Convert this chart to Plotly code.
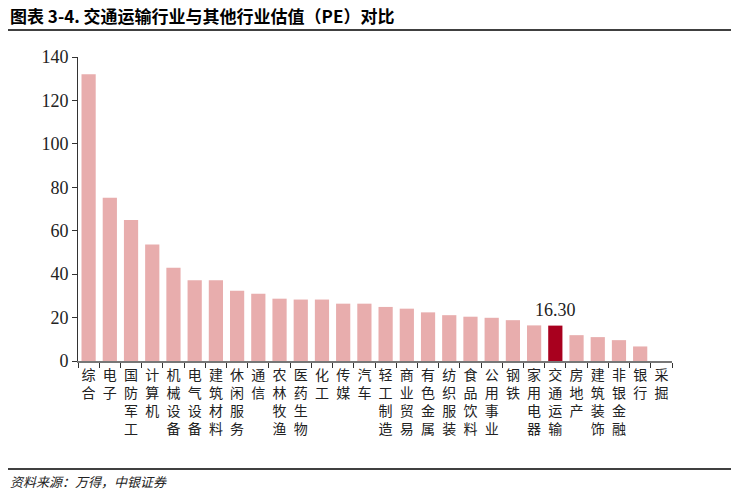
import plotly.graph_objects as go

categories = ["综合", "电子", "国防军工", "计算机", "机械设备", "电气设备", "建筑材料",
              "休闲服务", "通信", "农林牧渔", "医药生物", "化工", "传媒", "汽车",
              "轻工制造", "商业贸易", "有色金属", "纺织服装", "食品饮料", "公用事业",
              "钢铁", "家用电器", "交通运输", "房地产", "建筑装饰", "非银金融", "银行", "采掘"]
pe_values = [132.0, 75.2, 64.9, 53.6, 42.9, 37.2, 37.2,
             32.4, 31.0, 28.7, 28.3, 28.3, 26.4, 26.4,
             24.9, 24.1, 22.4, 21.1, 20.4, 19.9,
             18.8, 16.4, 16.30, 11.9, 11.0, 9.6, 6.7, 0.0]
highlight = "交通运输"
y_ticks = [0, 20, 40, 60, 80, 100, 120, 140]

PINK = "#E8ADAD"
RED = "#A8001E"
colors = [RED if c == highlight else PINK for c in categories]
tick_text = ["<br>".join(list(c)) for c in categories]

fig = go.Figure()
fig.add_trace(go.Bar(
    x=categories, y=pe_values, marker=dict(color=colors, line=dict(width=0)),
    hoverinfo="x+y",
))

hi = categories.index(highlight)
fig.add_annotation(x=categories[hi], y=pe_values[hi], text=f"{pe_values[hi]:.2f}",
                   showarrow=False, yanchor="bottom", yshift=4,
                   font=dict(family="Liberation Serif, serif", size=18, color="#222"))

fig.update_layout(
    width=739, height=494,
    margin=dict(l=78, r=67, t=57, b=133),
    paper_bgcolor="white", plot_bgcolor="white",
    bargap=0.33, showlegend=False,
    xaxis=dict(
        range=[-0.5, len(categories) - 0.5],
        tickmode="array", tickvals=categories, ticktext=tick_text,
        tickson="boundaries", ticks="outside", ticklen=5, tickcolor="#333",
        showline=True, linecolor="#777", linewidth=1.5,
        tickfont=dict(family="Noto Sans CJK SC", size=14, color="#222"),
        tickangle=0, showgrid=False, fixedrange=True,
    ),
    yaxis=dict(
        range=[0, 140], tickvals=y_ticks, ticks="outside", ticklen=5, tickcolor="#333",
        showline=True, linecolor="#333", linewidth=1, showgrid=False, zeroline=False,
        tickfont=dict(family="Liberation Serif, serif", size=18, color="#222"),
        fixedrange=True,
    ),
)

# Title and rules
fig.add_annotation(xref="paper", yref="paper", x=-70/594, y=1 + 42/304, xanchor="left", yanchor="middle",
                   text="<b>图表 3-4. 交通运输行业与其他行业估值（PE）对比</b>", showarrow=False,
                   font=dict(family="Noto Sans CJK SC", size=17, color="#000"))
fig.add_shape(type="line", xref="paper", yref="paper",
              x0=-70/594, x1=(731-78)/594, y0=1 + 27/304, y1=1 + 27/304,
              line=dict(color="#000", width=1.5))
fig.add_shape(type="line", xref="paper", yref="paper",
              x0=-70/594, x1=(731-78)/594, y0=-(469-361)/304, y1=-(469-361)/304,
              line=dict(color="#000", width=1.5))
fig.add_annotation(xref="paper", yref="paper", x=-70/594, y=-(481-361)/304, xanchor="left", yanchor="middle",
                   text="资料来源：万得，中银证券", showarrow=False,
                   font=dict(family="Noto Sans CJK SC", size=13, color="#222", style="italic"))

fig.write_html("out.html")
